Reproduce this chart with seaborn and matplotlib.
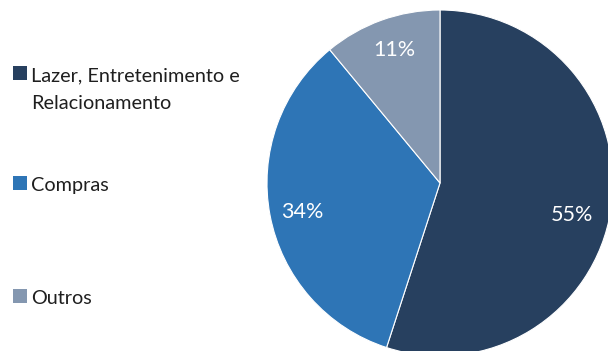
import matplotlib
matplotlib.use("Agg")
import matplotlib.pyplot as plt
import seaborn as sns

sns.set_theme(style="white")
plt.rcParams["font.family"] = ["Lato", "DejaVu Sans"]

categories = ["Lazer, Entretenimento e\nRelacionamento", "Compras", "Outros"]
shares = [55, 34, 11]
colors = ["#27405F", "#2E75B6", "#8497B0"]

W, H, DPI = 608, 351, 100
fig = plt.figure(figsize=(W / DPI, H / DPI), dpi=DPI)
fig.patch.set_facecolor("white")

# legend area in pixel coordinates
lax = fig.add_axes([0, 0, 1, 1])
lax.set_xlim(0, W)
lax.set_ylim(H, 0)
lax.axis("off")

# pie area: centre (440, 183), radius 173 px
cx, cy, r = 440, 183, 173
pax = fig.add_axes([(cx - r) / W, (H - cy - r) / H, 2 * r / W, 2 * r / H])
wedges, _ = pax.pie(
    shares,
    colors=colors,
    startangle=90,
    counterclock=False,
    radius=1,
    wedgeprops=dict(linewidth=0.8, edgecolor="white"),
)
pax.set_xlim(-1, 1)
pax.set_ylim(-1, 1)
pax.set_aspect("equal")
pax.axis("off")

label_pos = [(0.763, -0.185), (-0.798, -0.168), (-0.266, 0.769)]
for v, (x, y) in zip(shares, label_pos):
    pax.text(x, y, f"{v}%", color="white", fontsize=15.5,
             ha="center", va="center")

legend_rows = [73, 183, 296]
line_pitch = 28
for w, lab, yc in zip(wedges, categories, legend_rows):
    lax.scatter([20], [yc], marker="s", s=105, color=w.get_facecolor(),
                linewidths=0)
    lines = lab.split("\n")
    for i, line in enumerate(lines):
        lax.text(31, yc + 8 + i * line_pitch, line, fontsize=14.3,
                 color="#1f1f1f", ha="left", va="baseline")

fig.savefig("out.png", dpi=DPI, facecolor="white")
